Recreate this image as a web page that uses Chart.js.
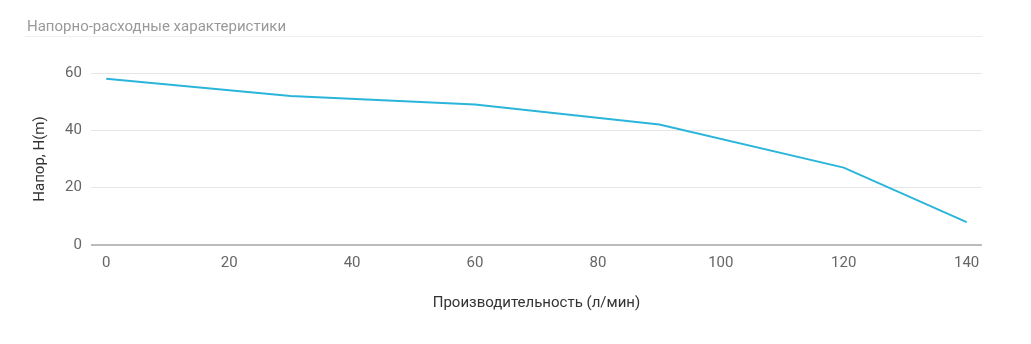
<!DOCTYPE html>
<html><head><meta charset="utf-8">
<script src="https://cdn.jsdelivr.net/npm/chart.js@4"></script>
<style>html,body{margin:0;padding:0;background:#fff;}#wrap{width:1031px;height:344px;}</style>
</head><body><div id="wrap"><canvas id="c" width="1031" height="344"></canvas></div>
<script>
const flowValues = [0, 30, 60, 90, 120, 140];
const headValues = [58, 52, 49, 42, 27, 8];
const xTickLabels = [0, 20, 40, 60, 80, 100, 120, 140];
const yTickLabels = [0, 20, 40, 60];
const chartTitle = 'Напорно-расходные характеристики';
const xTitle = 'Производительность (л/мин)';
const yTitle = 'Напор, H(m)';

const underline = {
  id: 'underline',
  afterDraw(chart) {
    const ctx = chart.ctx;
    ctx.save();
    ctx.strokeStyle = '#eeeeee';
    ctx.lineWidth = 1;
    ctx.beginPath();
    ctx.moveTo(25, 36.5);
    ctx.lineTo(982, 36.5);
    ctx.stroke();
    ctx.restore();
  }
};

new Chart(document.getElementById('c'), {
  type: 'line',
  data: {
    datasets: [{
      data: flowValues.map((x, i) => ({x: x, y: headValues[i]})),
      borderColor: '#2bb5da',
      borderWidth: 2,
      pointRadius: 0,
      tension: 0,
      fill: false
    }]
  },
  options: {
    responsive: false,
    animation: false,
    layout: {padding: {left: 27, right: 49, top: 18, bottom: 28}},
    plugins: {
      legend: {display: false},
      tooltip: {enabled: false},
      title: {
        display: true, text: chartTitle, align: 'start',
        color: '#999999', font: {family: 'Roboto', size: 15, weight: 'normal'},
        padding: {top: 0, bottom: 37}
      }
    },
    scales: {
      x: {
        type: 'linear', min: -2.5, max: 142.5,
        afterBuildTicks: s => { s.ticks = xTickLabels.map(v => ({value: v})); },
        grid: {display: false, drawTicks: false},
        border: {display: false},
        ticks: {color: '#666666', font: {family: 'Roboto', size: 15}, padding: 9, maxRotation: 0},
        title: {display: true, text: xTitle, color: '#333333', font: {family: 'Roboto', size: 15}, padding: {top: 13}}
      },
      y: {
        min: 0, max: 60,
        afterBuildTicks: s => { s.ticks = yTickLabels.map(v => ({value: v})); },
        grid: {color: ctx => ctx.tick && ctx.tick.value === 0 ? '#bbbbbb' : '#e6e6e6', lineWidth: ctx => ctx.tick && ctx.tick.value === 0 ? 2 : 1, drawTicks: false},
        border: {display: false},
        ticks: {color: '#666666', font: {family: 'Roboto', size: 15}, padding: 9},
        title: {display: true, text: yTitle, color: '#333333', font: {family: 'Roboto', size: 15}, padding: {bottom: 7}}
      }
    }
  },
  plugins: [underline]
});
</script></body></html>
